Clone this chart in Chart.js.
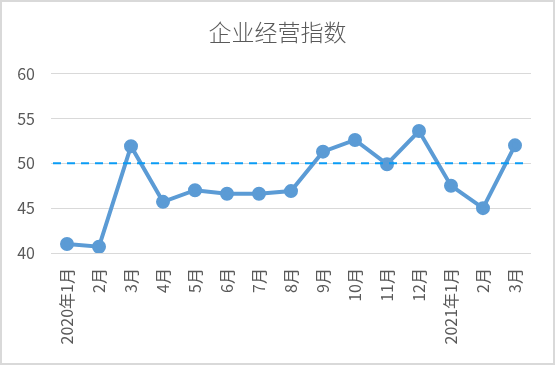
<!DOCTYPE html>
<html>
<head>
<meta charset="utf-8">
<script src="https://cdn.jsdelivr.net/npm/chart.js@4"></script>
<style>
  body { margin: 0; background: #fff; }
  .box { width: 555px; height: 365px; box-sizing: border-box; border: 2px solid #d9d9d9; }
  canvas { display: block; }
</style>
</head>
<body>
<div class="box"><canvas id="chart" width="551" height="361"></canvas></div>
<script>
const months = ['2020年1月', '2月', '3月', '4月', '5月', '6月', '7月', '8月', '9月', '10月', '11月', '12月', '2021年1月', '2月', '3月']
const indexValues = [41.0, 40.7, 51.9, 45.7, 47.0, 46.6, 46.6, 46.9, 51.3, 52.6, 49.9, 53.6, 47.5, 45.0, 52.0]
const refValue = 50
const yTicks = [40, 45, 50, 55, 60]

Chart.defaults.font.family = "'Noto Sans CJK SC', sans-serif"
Chart.defaults.color = '#595959'

// dashed reference line at 50
const refLine = {
    id: 'refLine',
    afterDatasetsDraw(chart) {
        const ctx = chart.ctx
        const area = chart.chartArea
        const y = chart.scales.y.getPixelForValue(refValue)
        ctx.save()
        ctx.strokeStyle = '#0a9cf5'
        ctx.lineWidth = 2
        ctx.setLineDash([8, 6])
        ctx.beginPath()
        ctx.moveTo(area.left + 2, y)
        ctx.lineTo(area.right - 7, y)
        ctx.stroke()
        ctx.restore()
    }
}

new Chart(document.getElementById('chart'), {
    type: 'line',
    data: {
        labels: months,
        datasets: [{
            label: '企业经营指数',
            data: indexValues,
            borderColor: '#5b9bd5',
            backgroundColor: '#5b9bd5',
            borderWidth: 4,
            pointRadius: 5,
            pointHoverRadius: 5,
            tension: 0
        }]
    },
    options: {
        responsive: false,
        animation: false,
        layout: { padding: 0 },
        scales: {
            x: {
                offset: true,
                grid: { display: false, drawTicks: false },
                border: { display: false },
                ticks: {
                    minRotation: 90,
                    maxRotation: 90,
                    autoSkip: false,
                    padding: 15,
                    font: { size: 16 }
                },
                afterFit(scale) { scale.height = 110 }
            },
            y: {
                min: 40,
                max: 60,
                afterBuildTicks(scale) { scale.ticks = yTicks.map(v => ({ value: v })) },
                grid: { color: '#d9d9d9', lineWidth: 1, drawTicks: false },
                border: { display: false },
                ticks: { padding: 16, font: { size: 16 } },
                afterFit(scale) { scale.width = 49 }
            },
            // empty right axis, only keeps the gap on the right side
            yRight: {
                position: 'right',
                min: 40,
                max: 60,
                grid: { display: false, drawTicks: false },
                border: { display: false },
                ticks: { display: false },
                afterFit(scale) { scale.width = 22 }
            }
        },
        plugins: {
            legend: { display: false },
            tooltip: { enabled: false },
            title: {
                display: true,
                text: '企业经营指数',
                color: '#595959',
                font: { size: 23, weight: 300 },
                padding: { top: 16, bottom: 28 }
            }
        }
    },
    plugins: [refLine]
})
</script>
</body>
</html>
